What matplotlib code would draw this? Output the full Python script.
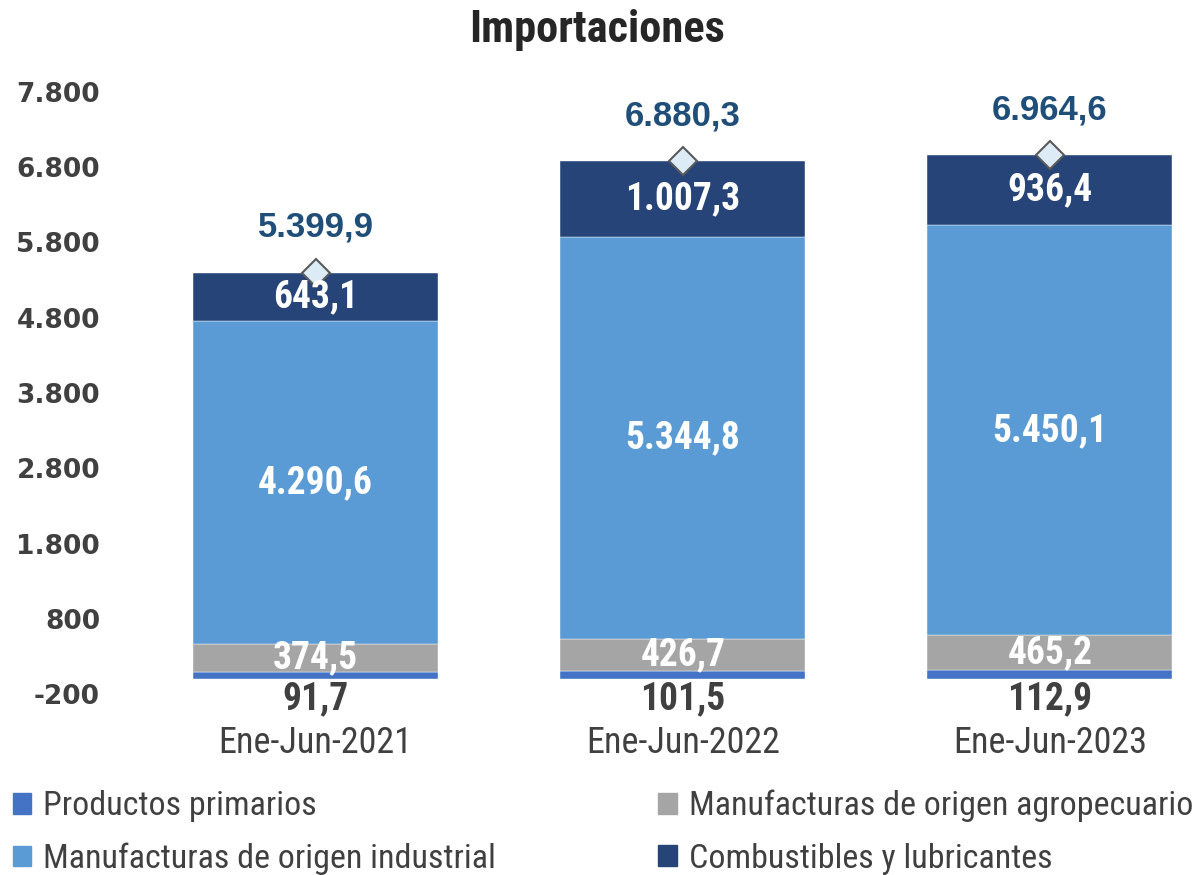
import matplotlib
matplotlib.use('Agg')
import matplotlib.pyplot as plt
import numpy as np
from matplotlib.patches import Patch

categories = ['Ene-Jun-2021', 'Ene-Jun-2022', 'Ene-Jun-2023']
primarios = [91.7, 101.5, 112.9]
agropecuario = [374.5, 426.7, 465.2]
industrial = [4290.6, 5344.8, 5450.1]
combustibles = [643.1, 1007.3, 936.4]
totales = [5399.9, 6880.3, 6964.6]
y_ticks = [-200, 800, 1800, 2800, 3800, 4800, 5800, 6800, 7800]

series_names = ['Productos primarios', 'Manufacturas de origen agropecuario',
                'Manufacturas de origen industrial', 'Combustibles y lubricantes']
colors = ['#4472C4', '#A5A5A5', '#5B9BD5', '#264478']

narrow = ['Roboto Condensed', 'DejaVu Sans']
wide = ['Liberation Sans', 'DejaVu Sans']


def fmt(v, dec=1):
    s = '{:,.{}f}'.format(v, dec)
    return s.replace(',', 'X').replace('.', ',').replace('X', '.')


fig = plt.figure(figsize=(11.94, 8.75), dpi=100)
ax = fig.add_axes([132 / 1194, 1 - 694 / 875, 1 - 132 / 1194, (694 - 92) / 875])

x = np.arange(len(categories))
width = 0.667
data = [primarios, agropecuario, industrial, combustibles]
bottom = np.zeros(len(categories))
for vals, col, name in zip(data, colors, series_names):
    ax.bar(x, vals, width, bottom=bottom, color=col, label=name,
           edgecolor='white', linewidth=0.3)
    bottom = bottom + np.array(vals)

ax.plot(x, totales, linestyle='none', marker='D', markersize=14,
        markerfacecolor='#DDEBF7', markeredgecolor='#595959', markeredgewidth=1.5)

# labels inside the segments
base = np.zeros(len(categories))
for k, vals in enumerate(data):
    for i, v in enumerate(vals):
        if k == 0:
            ax.text(x[i], base[i] - 20, fmt(v), ha='center', va='top',
                    fontsize=27, fontweight='bold', color='#404040', family=narrow)
        else:
            ax.text(x[i], base[i] + v / 2, fmt(v), ha='center', va='center',
                    fontsize=27, fontweight='bold', color='white', family=narrow)
    base = base + np.array(vals)

for i, t in enumerate(totales):
    ax.text(x[i], t + 600, fmt(t), ha='center', va='center',
            fontsize=25, fontweight='bold', color='#1F4E79', family=wide)

ax.set_ylim(-200, 7800)
ax.set_xlim(-0.5, (1194 - 316) / 367)
ax.set_yticks(y_ticks)
ax.set_yticklabels([fmt(v, 0) for v in y_ticks], fontsize=19, fontweight='bold',
                   color='#404040', family='DejaVu Sans')
ax.set_xticks(x)
ax.set_xticklabels(categories, fontsize=26, color='#404040', family=narrow)
ax.tick_params(axis='both', length=0)
ax.tick_params(axis='x', pad=22)
ax.tick_params(axis='y', pad=23)
for sp in ax.spines.values():
    sp.set_visible(False)

fig.text(0.5, 1 - 30 / 875, 'Importaciones', ha='center', va='center',
         fontsize=32, fontweight='bold', color='#262626', family=narrow)

handles = [Patch(color=colors[0]), Patch(color=colors[2]),
           Patch(color=colors[1]), Patch(color=colors[3])]
labels = [series_names[0], series_names[2], series_names[1], series_names[3]]
leg = fig.legend(handles, labels, ncol=2, loc='lower left',
                 bbox_to_anchor=(0.005, -0.008), frameon=False, borderaxespad=0,
                 borderpad=0.2, prop={'family': narrow, 'size': 24.5},
                 handlelength=0.55, handleheight=0.55, handletextpad=0.35,
                 columnspacing=4.75, labelspacing=0.6)
for t in leg.get_texts():
    t.set_color('#404040')

fig.savefig('out.png', dpi=100)
